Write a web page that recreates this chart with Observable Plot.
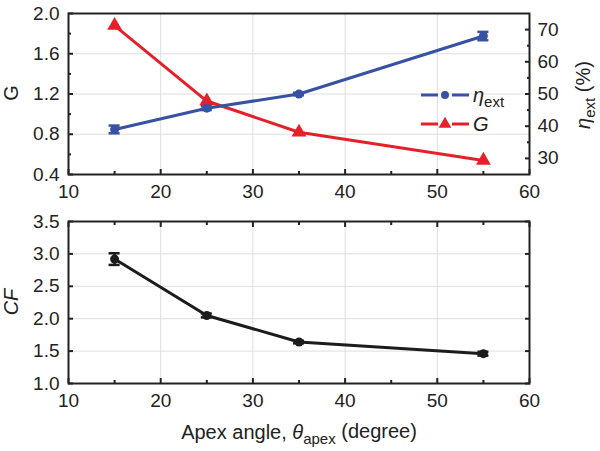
<!DOCTYPE html>
<html>
<head>
<meta charset="utf-8">
<script src="https://cdn.jsdelivr.net/npm/d3@7"></script>
<script src="https://cdn.jsdelivr.net/npm/@observablehq/plot@0.6"></script>
<style>
  html, body { margin: 0; padding: 0; background: #fff; }
  #wrap { position: relative; width: 600px; height: 451px; overflow: hidden; font-family: "Liberation Sans", Arial, sans-serif; color: #222; }
  #wrap > svg, #wrap > figure { position: absolute; left: 0; margin: 0; }
</style>
</head>
<body>
<div id="wrap"></div>
<script>
// ---- data ----
const angles = [15, 25, 35, 55];
const gValues = [1.88, 1.13, 0.82, 0.54];
const etaValues = [39, 45.6, 50, 68];
const etaErr = [1.2, 0.6, 0.4, 1.3];
const cfValues = [2.92, 2.05, 1.64, 1.46];
const cfErr = [0.09, 0.03, 0.02, 0.03];

const xTicks = [10, 20, 30, 40, 50, 60];
const xMinor = [15, 25, 35, 45, 55];
const gTicks = [0.4, 0.8, 1.2, 1.6, 2.0];
const gMinor = [0.6, 1.0, 1.4, 1.8];
const etaTicks = [30, 40, 50, 60, 70];
const etaMinor = [35, 45, 55, 65];
const cfTicks = [1.0, 1.5, 2.0, 2.5, 3.0, 3.5];

const gDomain = [0.4, 2.0];
const etaDomain = [25, 75];

// ---- styles ----
const BLUE = "#3852a3", RED = "#e4202a", BLACK = "#1c1c1c", GRID = "#dedede";
const FONT = "'Liberation Sans', Arial, sans-serif";
const capHalf = 0.6;

// map eta (right axis) onto the G (left) scale
const etaToG = v => gDomain[0] + (v - etaDomain[0]) / (etaDomain[1] - etaDomain[0]) * (gDomain[1] - gDomain[0]);
const gToEta = v => etaDomain[0] + (v - gDomain[0]) / (gDomain[1] - gDomain[0]) * (etaDomain[1] - etaDomain[0]);

const gData = angles.map((a, i) => ({x: a, y: gValues[i]}));
const etaData = angles.map((a, i) => ({x: a, y: etaToG(etaValues[i]), lo: etaToG(etaValues[i] - etaErr[i]), hi: etaToG(etaValues[i] + etaErr[i])}));
const cfData = angles.map((a, i) => ({x: a, y: cfValues[i], lo: cfValues[i] - cfErr[i], hi: cfValues[i] + cfErr[i]}));

const styleBase = {fontFamily: FONT, fontSize: "19px", background: "transparent", overflow: "visible", color: "#222"};

function errorMarks(data, color) {
  return [
    Plot.ruleX(data, {x: "x", y1: "lo", y2: "hi", stroke: color, strokeWidth: 2.5}),
    Plot.ruleY(data, {y: "hi", x1: d => d.x - capHalf, x2: d => d.x + capHalf, stroke: color, strokeWidth: 2.5}),
    Plot.ruleY(data, {y: "lo", x1: d => d.x - capHalf, x2: d => d.x + capHalf, stroke: color, strokeWidth: 2.5})
  ];
}

const topChart = Plot.plot({
  width: 600, height: 210,
  marginTop: 13, marginBottom: 36, marginLeft: 68, marginRight: 71,
  style: styleBase,
  x: {domain: [10, 60], label: null},
  y: {domain: gDomain, label: null},
  marks: [
    Plot.gridX(xTicks.slice(1, -1), {stroke: GRID, strokeOpacity: 1}),
    Plot.gridY(gTicks.slice(1, -1), {stroke: GRID, strokeOpacity: 1}),
    Plot.axisX(xTicks, {anchor: "bottom", tickSize: 0, tickPadding: 10, tickFormat: d => d, label: null}),
    Plot.axisX(xTicks, {anchor: "bottom", tickSize: 5, dy: -5, fill: "none", strokeWidth: 2}),
    Plot.axisX(xMinor, {anchor: "bottom", tickSize: 3, dy: -3, fill: "none", strokeWidth: 2}),
    Plot.axisY(gTicks, {anchor: "left", tickSize: 0, tickPadding: 9, tickFormat: d3.format(".1f"), label: null}),
    Plot.axisY(gTicks, {anchor: "left", tickSize: 5, dx: 5, fill: "none", strokeWidth: 2}),
    Plot.axisY(gMinor, {anchor: "left", tickSize: 3, dx: 3, fill: "none", strokeWidth: 2}),
    Plot.axisY(etaTicks.map(etaToG), {anchor: "right", tickSize: 0, tickPadding: 8, tickFormat: d => Math.round(gToEta(d)), label: null}),
    Plot.axisY(etaTicks.map(etaToG), {anchor: "right", tickSize: 5, dx: -5, fill: "none", strokeWidth: 2}),
    Plot.axisY(etaMinor.map(etaToG), {anchor: "right", tickSize: 3, dx: -3, fill: "none", strokeWidth: 2}),
    Plot.line(gData, {x: "x", y: "y", stroke: RED, strokeWidth: 3}),
    Plot.dot(gData, {x: "x", y: "y", symbol: "triangle", r: 5.5, fill: RED}),
    Plot.line(etaData, {x: "x", y: "y", stroke: BLUE, strokeWidth: 3}),
    ...errorMarks(etaData, BLUE),
    Plot.dot(etaData, {x: "x", y: "y", r: 4.5, fill: BLUE}),
    Plot.frame({stroke: "#222", strokeWidth: 2})
  ]
});

const bottomChart = Plot.plot({
  width: 600, height: 256,
  marginTop: 26, marginBottom: 68, marginLeft: 68, marginRight: 71,
  style: styleBase,
  x: {domain: [10, 60], label: null},
  y: {domain: [1.0, 3.5], label: null},
  marks: [
    Plot.gridX(xTicks.slice(1, -1), {stroke: GRID, strokeOpacity: 1}),
    Plot.gridY(cfTicks.slice(1, -1), {stroke: GRID, strokeOpacity: 1}),
    Plot.axisX(xTicks, {anchor: "bottom", tickSize: 0, tickPadding: 10, tickFormat: d => d, label: null}),
    Plot.axisX(xTicks, {anchor: "bottom", tickSize: 5, dy: -5, fill: "none", strokeWidth: 2}),
    Plot.axisX(xMinor, {anchor: "bottom", tickSize: 3, dy: -3, fill: "none", strokeWidth: 2}),
    Plot.axisX(xTicks, {anchor: "top", tickSize: 5, dy: 5, fill: "none", strokeWidth: 2}),
    Plot.axisX(xMinor, {anchor: "top", tickSize: 3, dy: 3, fill: "none", strokeWidth: 2}),
    Plot.axisY(cfTicks, {anchor: "left", tickSize: 0, tickPadding: 9, tickFormat: d3.format(".1f"), label: null}),
    Plot.axisY(cfTicks, {anchor: "left", tickSize: 5, dx: 5, fill: "none", strokeWidth: 2}),
    Plot.axisY(cfTicks, {anchor: "right", tickSize: 5, dx: -5, fill: "none", strokeWidth: 2}),
    Plot.line(cfData, {x: "x", y: "y", stroke: BLACK, strokeWidth: 3}),
    ...errorMarks(cfData, BLACK),
    Plot.dot(cfData, {x: "x", y: "y", r: 4.5, fill: BLACK}),
    Plot.frame({stroke: "#222", strokeWidth: 2})
  ]
});

const wrap = document.getElementById("wrap");
topChart.style.top = "0px";
bottomChart.style.top = "195px";
wrap.appendChild(topChart);
wrap.appendChild(bottomChart);

// ---- overlay: axis titles and legend ----
const ov = d3.select(wrap).append("svg")
  .attr("width", 600).attr("height", 451)
  .style("position", "absolute").style("left", 0).style("top", 0)
  .style("font-family", FONT).style("font-size", "20px").attr("fill", "#222");

function rotLabel(x, y, parts) {
  const t = ov.append("text").attr("transform", `translate(${x},${y}) rotate(-90)`).attr("text-anchor", "middle").attr("dy", "0.35em");
  parts.forEach(p => {
    const s = t.append("tspan").text(p.text);
    if (p.italic) s.attr("font-style", "italic");
    if (p.sub) s.attr("font-size", "15px").attr("dy", "0.35em");
    if (p.up) s.attr("dy", "-0.27em");
  });
}
rotLabel(11, 93, [{text: "G"}]);
rotLabel(11, 302, [{text: "CF", italic: true}]);
rotLabel(583, 95, [{text: "η", italic: true}, {text: "ext", sub: true}, {text: " (%)", up: true}]);

const xl = ov.append("text").attr("x", 299).attr("y", 439).attr("text-anchor", "middle");
xl.append("tspan").text("Apex angle, ");
xl.append("tspan").text("θ").attr("font-style", "italic");
xl.append("tspan").text("apex").attr("font-size", "15px").attr("dy", "0.3em");
xl.append("tspan").text(" (degree)").attr("dy", "-0.3em");

// legend
const legendItems = [
  {label: "η", sub: "ext", color: BLUE, symbol: d3.symbolCircle, size: 50, y: 95},
  {label: "G", sub: null, color: RED, symbol: d3.symbolTriangle, size: 70, y: 124}
];
legendItems.forEach(it => {
  const g = ov.append("g");
  g.append("line").attr("x1", 421).attr("x2", 438).attr("y1", it.y).attr("y2", it.y).attr("stroke", it.color).attr("stroke-width", 3);
  g.append("line").attr("x1", 452).attr("x2", 469).attr("y1", it.y).attr("y2", it.y).attr("stroke", it.color).attr("stroke-width", 3);
  g.append("path").attr("d", d3.symbol(it.symbol, it.size)()).attr("transform", `translate(445,${it.y})`).attr("fill", it.color);
  const t = g.append("text").attr("x", 473).attr("y", it.y).attr("dy", "0.35em");
  t.append("tspan").text(it.label).attr("font-style", "italic");
  if (it.sub) t.append("tspan").text(it.sub).attr("font-size", "15px").attr("dy", "0.35em");
});
</script>
</body>
</html>
